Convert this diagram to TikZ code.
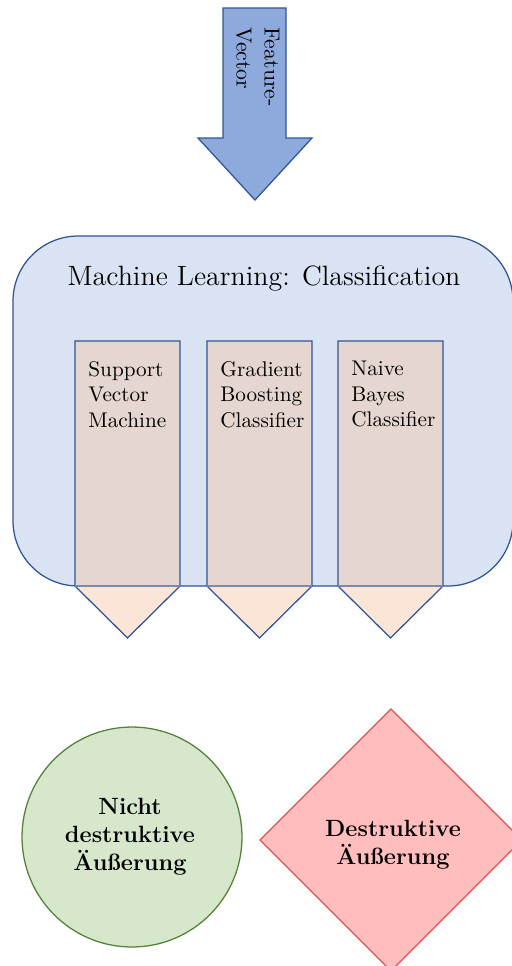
\documentclass[tikz,border=0pt]{standalone}
\usetikzlibrary{shapes.geometric}
\definecolor{arrowfill}{HTML}{8EA9DB}
\definecolor{darkblue}{HTML}{2F5597}
\definecolor{boxfill}{HTML}{DAE3F3}
\definecolor{colfill}{HTML}{E6D6D0}
\definecolor{tipfill}{HTML}{FBE5D6}
\definecolor{seamline}{HTML}{7C88A8}
\definecolor{greenfill}{HTML}{D6E7CC}
\definecolor{greenline}{HTML}{538135}
\definecolor{redfill}{HTML}{FFBDBD}
\definecolor{redline}{HTML}{D9534F}
\tikzset{
  outline/.style={draw=darkblue, line width=0.6pt, line join=miter},
  colbody/.style={fill=colfill},
  coltip/.style={fill=tipfill},
  coltext/.style={anchor=north west, inner sep=0pt, align=left, font=\fontsize{10.1}{12.1}\selectfont},
  boldtext/.style={align=center, inner sep=0pt, font=\fontsize{11.2}{13.3}\selectfont\bfseries},
}
\begin{document}
\begin{tikzpicture}[x=0.476pt, y=-0.476pt]
\useasboundingbox (0,0) rectangle (511,966);

% input arrow
\draw[outline, fill=arrowfill]
  (223,8) -- (286,8) -- (286,138) -- (312,138) -- (255,200) -- (198,138) -- (223,138) -- cycle;
\node[rotate=-90, anchor=north west, inner sep=0pt, align=left,
      font=\fontsize{10.4}{13.4}\selectfont] (featvec) at (280,27) {Feature-\\Vector};

% classification container
\draw[outline, fill=boxfill, rounded corners=31pt] (13,236) rectangle (513,586);
\node[font=\fontsize{13.3}{16}\selectfont] (mltitle) at (264,279) {Machine Learning: Classification};

% three classifier columns
\foreach \l/\r/\nm in {75/180/svm, 207/312/gbc, 338/443/nbc}{
  \fill[colbody] (\l,341) rectangle (\r,586);
  \fill[coltip] (\l,586) -- (\r,586) -- ({(\l+\r)/2},638) -- cycle;
  \draw[outline] (\l,586) -- (\l,341) -- (\r,341) -- (\r,586) -- ({(\l+\r)/2},638) -- cycle;
  \draw[seamline, line width=0.6pt] (\l,586) -- (\r,586);
}
\node[coltext] (svm) at (88,361) {Support\\Vector\\Machine};
\node[coltext] (gbc) at (220,361) {Gradient\\Boosting\\Classifier};
\node[coltext] (nbc) at (351,361) {Naive\\Bayes\\Classifier};

% outcomes
\node[circle, draw=greenline, fill=greenfill, line width=0.6pt,
      minimum size=104.7pt, inner sep=0pt] (nondestr) at (132,837) {};
\node[boldtext] (nondestrtext) at (130,837) {Nicht\\destruktive\\Äußerung};

\draw[draw=redline, fill=redfill, line width=0.6pt]
  (391,709) -- (522,840) -- (391,971) -- (260,840) -- cycle;
\node[boldtext] (destrtext) at (393,845) {Destruktive\\Äußerung};
\end{tikzpicture}
\end{document}
